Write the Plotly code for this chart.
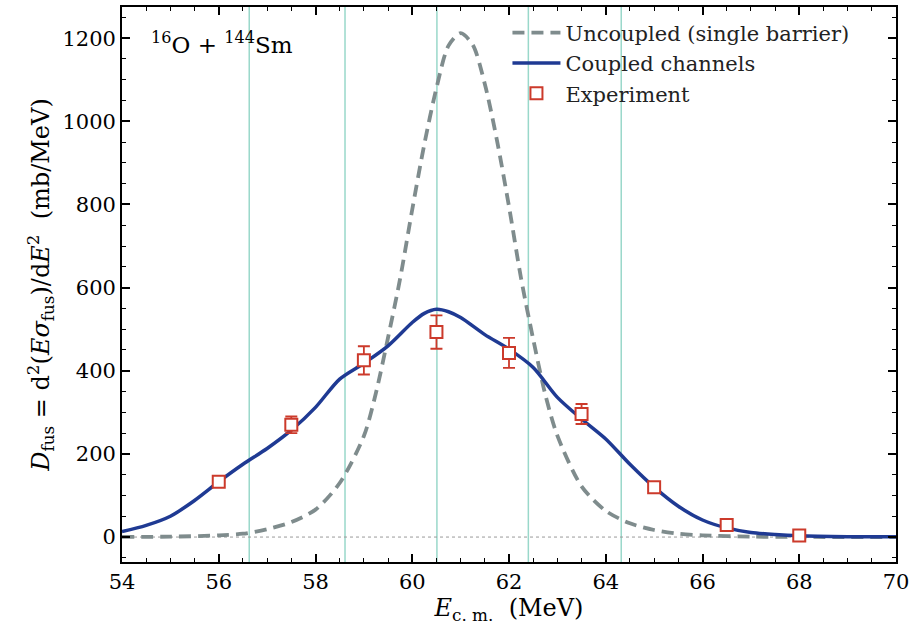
import plotly.graph_objects as go

# ---- data ----
e_uncoupled = [54, 55, 56, 56.5, 57, 57.5, 58, 58.5, 59, 59.25, 59.5, 59.75, 60, 60.25, 60.5,
               60.75, 61, 61.25, 61.5, 61.75, 62, 62.25, 62.5, 62.75, 63, 63.5, 64, 64.5,
               65, 65.5, 66, 67, 68, 70]
d_uncoupled = [0.3, 1, 4, 8, 19, 36, 66, 130, 243, 347, 480, 622, 788, 945, 1080,
               1182, 1212, 1184, 1090, 955, 795, 622, 476, 343, 244, 122, 63, 33,
               17, 8, 4, 1, 0.3, 0]

e_coupled = [54, 54.5, 55, 55.5, 56, 56.5, 57, 57.5, 58, 58.5, 59, 59.5, 60, 60.25, 60.5,
             60.75, 61, 61.5, 62, 62.5, 63, 63.5, 64, 64.5, 65, 65.5, 66, 66.5, 67, 67.5,
             68, 69, 70]
d_coupled = [13, 28, 50, 88, 133, 175, 213, 257, 312, 380, 418, 460, 516, 538, 548,
             542, 528, 487, 452, 408, 336, 284, 236, 175, 120, 74, 41, 22, 11, 6,
             3, 1, 0.5]

e_exp = [56, 57.5, 59, 60.5, 62, 63.5, 65, 66.5, 68]
d_exp = [133, 270, 425, 493, 443, 296, 120, 29, 4]
d_exp_err = [6, 20, 34, 40, 36, 24, 6, 3, 1]

barrier_centroids = [56.63, 58.61, 60.51, 62.40, 64.32]

x_ticks = [54, 56, 58, 60, 62, 64, 66, 68, 70]
y_ticks = [0, 200, 400, 600, 800, 1000, 1200]

FONT = "DejaVu Serif"
BLUE = "#1f3a93"
GREY = "#7f8c8d"
RED = "#cc3a2b"
TEAL = "#99d8ca"

fig = go.Figure()

for xc in barrier_centroids:
    fig.add_vline(x=xc, line=dict(color=TEAL, width=1.5), layer="below")

fig.add_hline(y=0, line=dict(color="#9a9a9a", width=1, dash="dot"), layer="below")

fig.add_trace(go.Scatter(
    x=e_uncoupled, y=d_uncoupled, mode="lines",
    name="Uncoupled (single barrier)", legendgroup="a",
    line=dict(color=GREY, width=3.8, dash="12px,7px", shape="spline", smoothing=0.8),
))
fig.add_trace(go.Scatter(
    x=e_coupled, y=d_coupled, mode="lines",
    name="Coupled channels", legendgroup="b",
    line=dict(color=BLUE, width=3.5, shape="spline", smoothing=0.8),
))
fig.add_trace(go.Scatter(
    x=e_exp, y=d_exp, mode="markers",
    name="Experiment", legendgroup="c",
    marker=dict(symbol="square", size=12, color="white", line=dict(color=RED, width=2)),
    error_y=dict(type="data", array=d_exp_err, visible=True, color=RED, thickness=1.8, width=6),
))

fig.add_annotation(
    x=0.035, y=0.935, xref="paper", yref="paper", xanchor="left", yanchor="middle",
    text="<sup>16</sup>O + <sup>144</sup>Sm", showarrow=False,
    font=dict(family=FONT, size=23, color="black"),
)

axis_common = dict(
    showgrid=False, zeroline=False, showline=True, linecolor="black", linewidth=1.8,
    mirror="allticks", ticks="inside", ticklen=8, tickwidth=1.5, tickcolor="black",
    tickfont=dict(family=FONT, size=21, color="black"),
)

fig.update_xaxes(
    range=[54, 70], tickvals=x_ticks,
    minor=dict(dtick=0.5, ticks="inside", ticklen=4.5, tickwidth=1.2, tickcolor="black"),
    title=dict(text="<i>E</i><sub>c. m.</sub>  (MeV)", font=dict(family=FONT, size=24, color="black"), standoff=5),
    **axis_common,
)
fig.update_yaxes(
    range=[-60, 1275], tickvals=y_ticks,
    minor=dict(dtick=50, ticks="inside", ticklen=4.5, tickwidth=1.2, tickcolor="black"),
    title=dict(text="<i>D</i><sub>fus</sub> = d<sup>2</sup>(<i>Eσ</i><sub>fus</sub>)/d<i>E</i><sup>2</sup>  (mb/MeV)",
               font=dict(family=FONT, size=24, color="black"), standoff=6),
    **axis_common,
)

fig.update_layout(
    width=915, height=633,
    margin=dict(l=122, r=19, t=5, b=71),
    plot_bgcolor="white", paper_bgcolor="white",
    font=dict(family=FONT, color="black"),
    legend=dict(
        x=0.498, y=0.99, xanchor="left", yanchor="top",
        font=dict(family=FONT, size=21, color="#222"),
        bgcolor="rgba(255,255,255,0)", traceorder="grouped", tracegroupgap=0,
        itemwidth=48,
    ),
)

fig.write_html("out.html", config={"displayModeBar": False},
               post_script="document.body.style.margin='0px';")
